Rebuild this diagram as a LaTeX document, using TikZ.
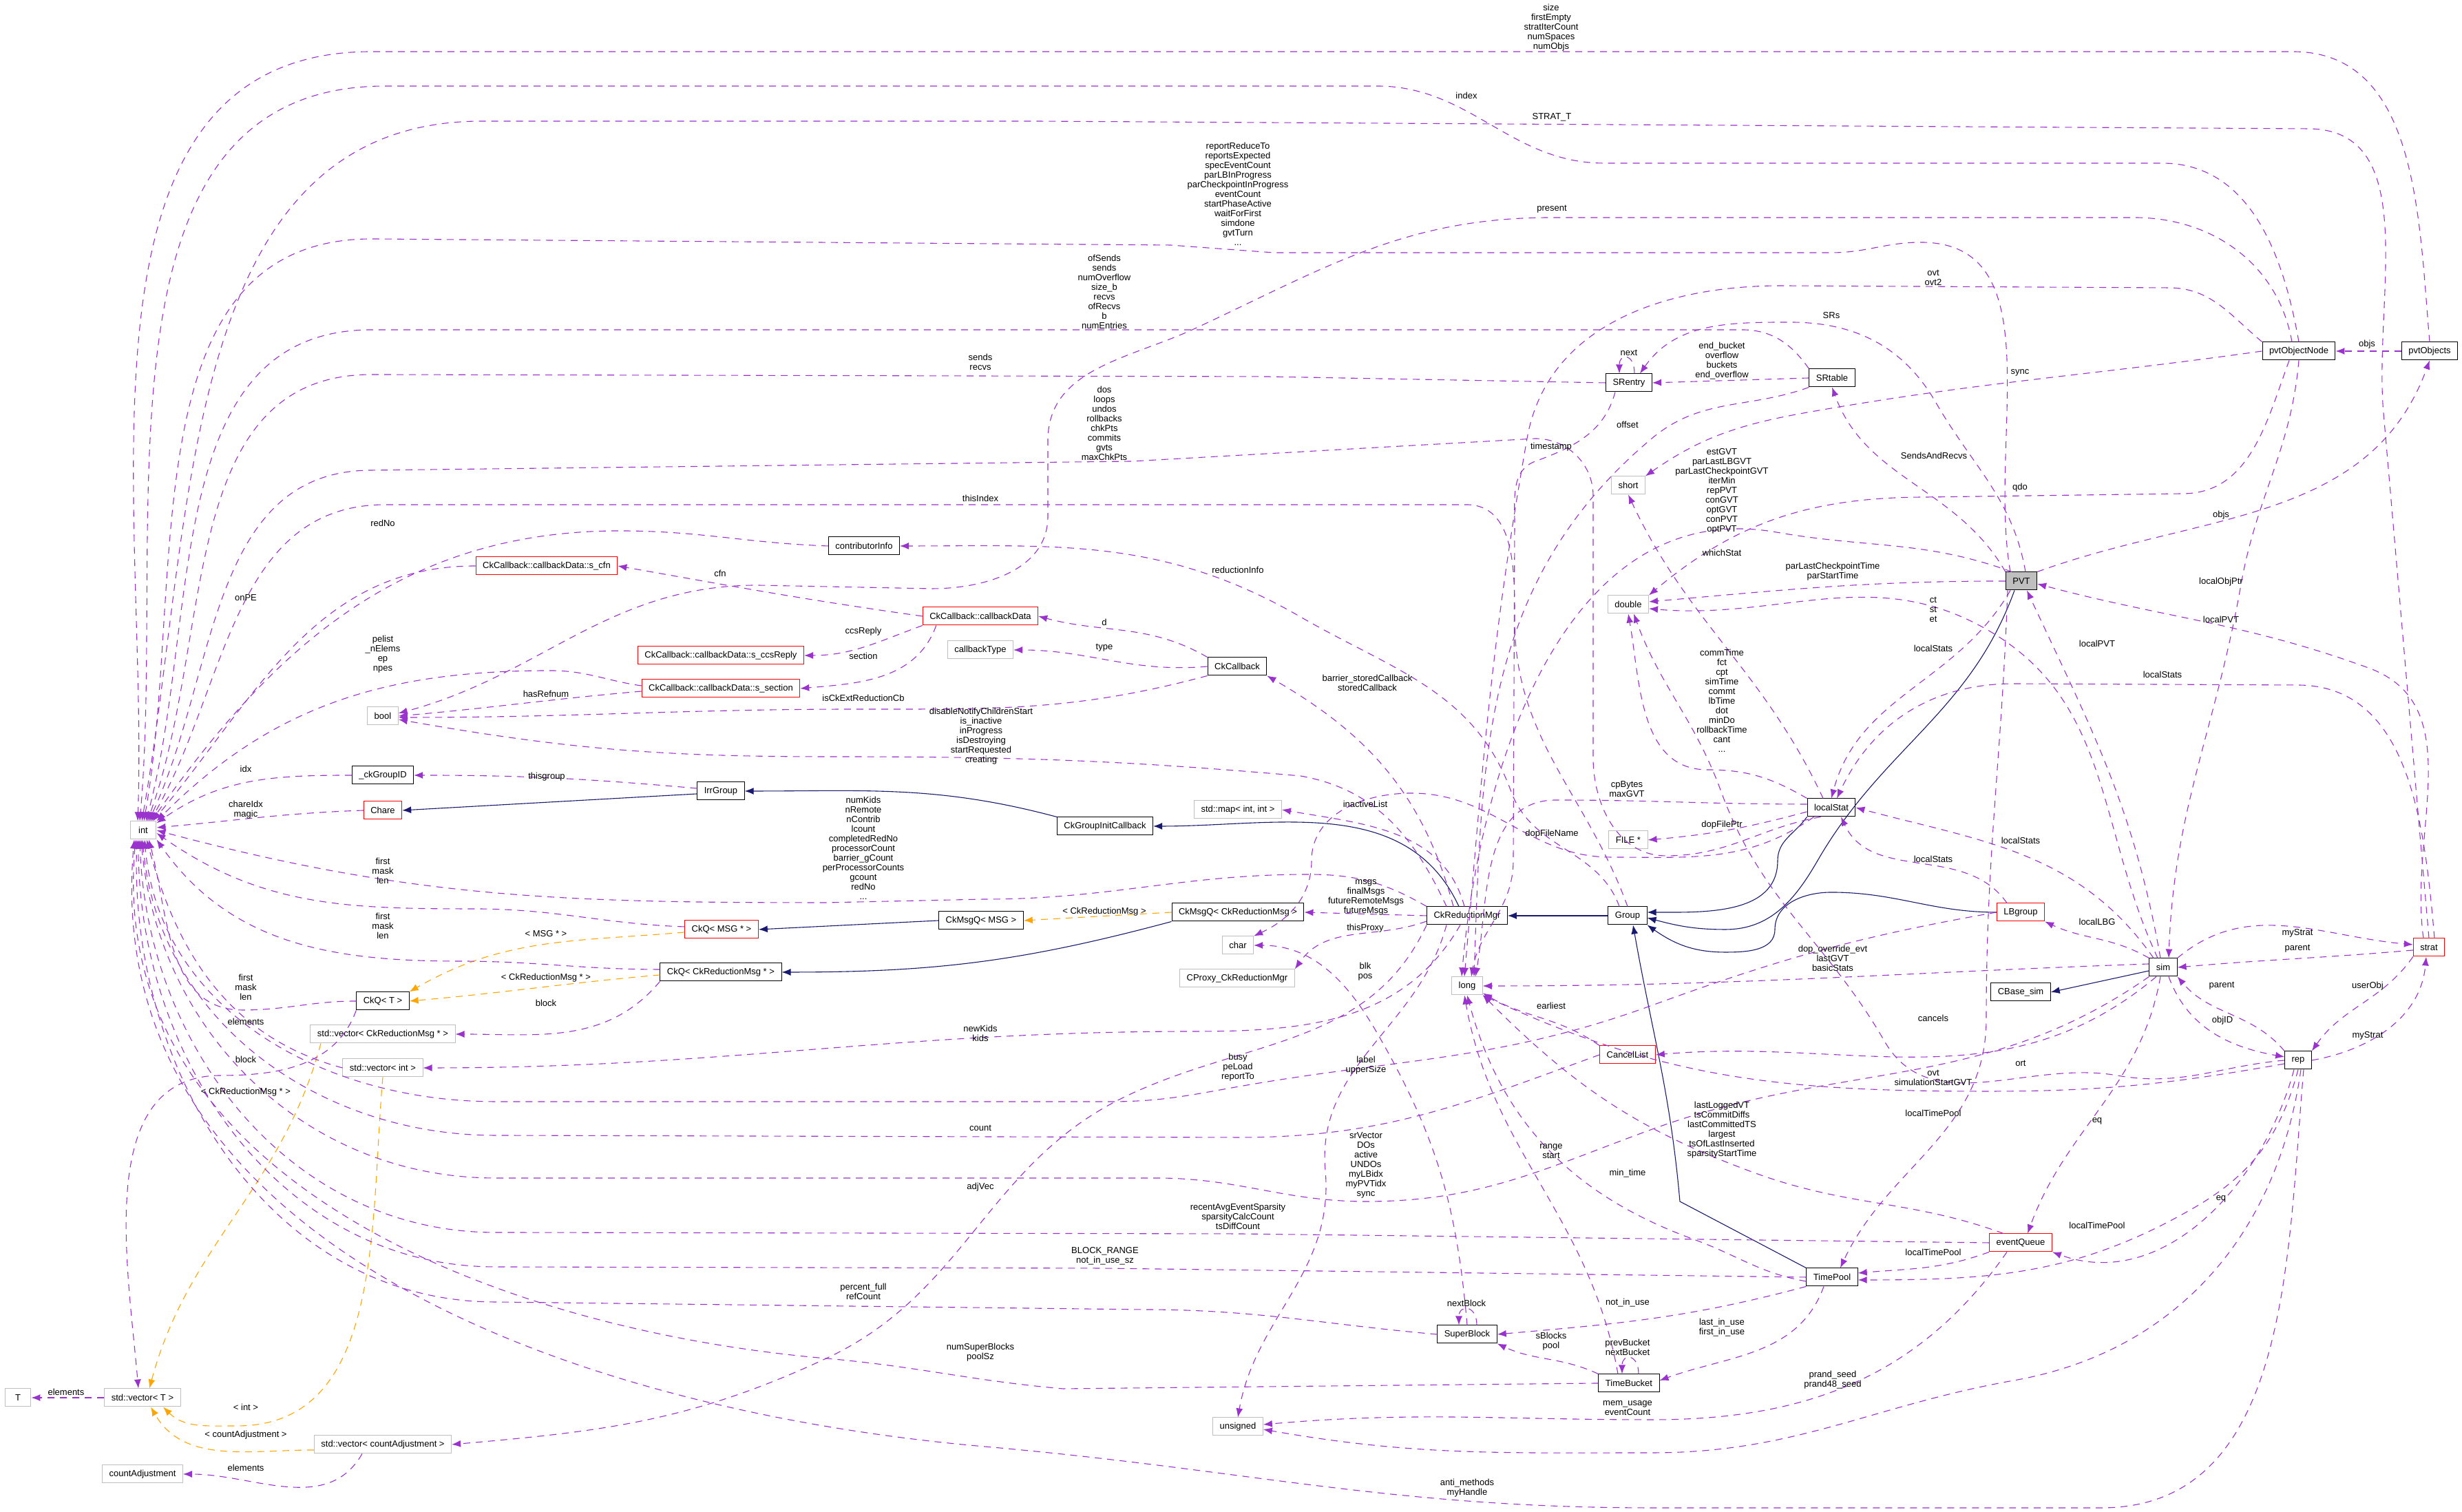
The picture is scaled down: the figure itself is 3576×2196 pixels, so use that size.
\documentclass[tikz,border=0pt]{standalone}
\usepackage{fontspec}
\setmainfont{Liberation Sans}
\usetikzlibrary{arrows.meta}
\definecolor{memcol}{RGB}{154,50,205}
\definecolor{inhcol}{RGB}{25,25,112}
\definecolor{tplcol}{RGB}{255,165,0}
\definecolor{boxgray}{RGB}{191,191,191}
\begin{document}
\begin{tikzpicture}[x=0.1pt,y=0.1pt,font=\fontsize{1.3}{1.4}\selectfont]
		\tikzstyle{box} = [rectangle,draw,line width=0.1pt,minimum height=2.6pt,minimum width=3.8pt,inner xsep=1pt,inner ysep=0.2pt]
		\tikzstyle{cls} = [box,draw=black]
		\tikzstyle{typ} = [box,draw=boxgray]
		\tikzstyle{undoc} = [box,draw=red]
		\tikzstyle{focus} = [box,draw=black,fill=boxgray]
		\tikzstyle{lbl} = [align=center,inner sep=0pt]
		\tikzstyle{mem} = [->,>={Latex[length=1.3pt,width=1pt]},draw=memcol,line width=0.11pt,dash pattern=on 1pt off 0.8pt]
		\tikzstyle{inh} = [->,>={Latex[length=1.3pt,width=1pt]},draw=inhcol,line width=0.11pt]
		\tikzstyle{tpl} = [->,>={Latex[length=1.3pt,width=1pt]},draw=tplcol,line width=0.11pt,dash pattern=on 1pt off 0.8pt]

		\useasboundingbox (0,-2196) rectangle (3576,0);
		\fill[white] (0,-2196) rectangle (3576,0);

		\node[typ](int) at (208,-1206) {int};
		\node[undoc](cfn) at (794,-822) {CkCallback::callbackData::s\_cfn};
		\node[undoc](ccsReply) at (1047,-952) {CkCallback::callbackData::s\_ccsReply};
		\node[undoc](section) at (1047,-1000) {CkCallback::callbackData::s\_section};
		\node[typ](bool) at (556,-1040) {bool};
		\node[cls](groupID) at (556,-1126) {\_ckGroupID};
		\node[cls](IrrGroup) at (1047,-1149) {IrrGroup};
		\node[undoc](Chare) at (556,-1177) {Chare};
		\node[undoc](CkQmsg) at (1048,-1350) {CkQ< MSG * >};
		\node[cls](CkQred) at (1047,-1412) {CkQ< CkReductionMsg * >};
		\node[cls](CkQT) at (556,-1454) {CkQ< T >};
		\node[typ](vecRed) at (556,-1502) {std::vector< CkReductionMsg * >};
		\node[typ](vecInt) at (556,-1551) {std::vector< int >};
		\node[typ](T) at (26,-2030) {T};
		\node[typ](vecT) at (207,-2030) {std::vector< T >};
		\node[typ](vecAdj) at (556,-2098) {std::vector< countAdjustment >};
		\node[typ](countAdj) at (207,-2141) {countAdjustment};
		\node[cls](contributorInfo) at (1255,-793) {contributorInfo};
		\node[undoc](callbackData) at (1424,-895) {CkCallback::callbackData};
		\node[typ](callbackType) at (1424,-944) {callbackType};
		\node[cls](CkCallback) at (1797,-968) {CkCallback};
		\node[typ](stdmap) at (1798,-1176) {std::map< int, int >};
		\node[cls](CkGroupInitCallback) at (1605,-1200) {CkGroupInitCallback};
		\node[cls](CkMsgQmsg) at (1425,-1337) {CkMsgQ< MSG >};
		\node[cls](CkMsgQred) at (1798,-1325) {CkMsgQ< CkReductionMsg >};
		\node[cls](CkReductionMgr) at (2131,-1330) {CkReductionMgr};
		\node[cls](Group) at (2364,-1330) {Group};
		\node[typ](char) at (1798,-1373) {char};
		\node[typ](CProxy) at (1797,-1421) {CProxy\_CkReductionMgr};
		\node[typ](long) at (2131,-1432) {long};
		\node[typ](double) at (2365,-878) {double};
		\node[typ](FILE) at (2365,-1220) {FILE *};
		\node[cls](SRentry) at (2366,-556) {SRentry};
		\node[typ](short) at (2365,-705) {short};
		\node[cls](SRtable) at (2661,-549) {SRtable};
		\node[cls](pvtObjectNode) at (3339,-510) {pvtObjectNode};
		\node[cls](pvtObjects) at (3529,-510) {pvtObjects};
		\node[focus](PVT) at (2936,-844) {PVT};
		\node[cls](localStat) at (2660,-1173) {localStat};
		\node[undoc](LBgroup) at (2935,-1325) {LBgroup};
		\node[cls](sim) at (3142,-1405) {sim};
		\node[undoc](strat) at (3528,-1376) {strat};
		\node[cls](CBaseSim) at (2935,-1441) {CBase\_sim};
		\node[undoc](CancelList) at (2364,-1532) {CancelList};
		\node[cls](rep) at (3338,-1540) {rep};
		\node[undoc](eventQueue) at (2935,-1805) {eventQueue};
		\node[cls](TimePool) at (2661,-1855) {TimePool};
		\node[cls](TimeBucket) at (2366,-2009) {TimeBucket};
		\node[cls](SuperBlock) at (2131,-1938) {SuperBlock};
		\node[typ](unsigned) at (1798,-2072) {unsigned};

		\draw[inh] ([yshift=-0.4]IrrGroup.west) -- (Chare.east);
		\draw[inh] (CkGroupInitCallback.north west) to[out=165,in=0] (IrrGroup.east);
		\draw[inh] ([xshift=-1.2]CkReductionMgr.north) to[out=115,in=0] (CkGroupInitCallback.east);
		\draw[inh] (Group.west) -- (CkReductionMgr.east);
		\draw[inh] (CkMsgQmsg.west) -- (CkQmsg.east);
		\draw[inh] (CkMsgQred.south west) to[out=195,in=0] (CkQred.east);
		\draw[inh] (localStat.south west) to[out=235,in=90] (2582,-1250) to[out=270,in=0] ([yshift=0.5]Group.east);
		\draw[inh] ([xshift=-1]PVT.south) to[out=250,in=60] (2640,-1250) to[out=240,in=0] (2506,-1350) to[out=180,in=-15] ([yshift=-0.3]Group.east);
		\draw[inh] (LBgroup.west) to[out=180,in=0] (2660,-1296) to[out=180,in=90] (2578,-1350) to[out=270,in=0] (2506,-1383) to[out=180,in=-35] (Group.south east);
		\draw[inh] (TimePool.north west) -- (2440,-1745) to[out=95,in=-80] ([xshift=0.8]Group.south);
		\draw[inh] ([yshift=-0.5]sim.west) -- (CBaseSim.east);

		\draw[tpl] ([yshift=-0.4]CkQmsg.west) to[out=185,in=30] (CkQT.north east);
		\draw[tpl] ([yshift=-0.4]CkQred.west) to[out=185,in=5] (CkQT.east);
		\draw[tpl] (CkMsgQred.west) -- (CkMsgQmsg.east);
		\draw[tpl] ([xshift=-9]vecRed.south) to[out=255,in=75] ([xshift=1]vecT.north);
		\draw[tpl] (vecInt.south) to[out=265,in=0] (344,-2071) to[out=180,in=-45] ([xshift=3]vecT.south);
		\draw[tpl] ([yshift=-0.8]vecAdj.west) to[out=180,in=-60] ([xshift=1.2]vecT.south);

		\draw[mem] (pvtObjects.north) to[out=95,in=0] (3330,-75) -- (540,-75) to[out=180,in=88] ([xshift=-0.8]int.north);
		\draw[mem] (pvtObjectNode.north) to[out=100,in=0] (3140,-237) -- (2330,-237) to[out=180,in=0] (2000,-125) -- (560,-125) to[out=180,in=85] ([xshift=-0.5]int.north);
		\draw[mem] (strat.north) to[out=95,in=-85] (3462,-600) to[out=95,in=0] (3352,-187) -- (1500,-176) -- (700,-176) to[out=180,in=80] ([xshift=-0.2]int.north);
		\draw[mem] ([xshift=-1.6]PVT.north) to[out=100,in=0] (2790,-352) to[out=180,in=0] (2660,-367) -- (1850,-367) -- (1700,-356) -- (540,-347) to[out=180,in=80] ([xshift=0.1]int.north);
		\draw[mem] (SRtable.north west) to[out=125,in=0] (2530,-479) -- (540,-479) to[out=180,in=75] ([xshift=0.4]int.north);
		\draw[mem] (SRentry.west) -- (1840,-547) -- (540,-544) to[out=180,in=70] ([xshift=0.6]int.north);
		\draw[mem] ([xshift=2]localStat.south west) to[out=190,in=0] (2420,-1243) to[out=180,in=270] (2314,-1100) -- (2314,-720) to[out=90,in=0] (2230,-637) -- (1644,-670) -- (540,-683) to[out=180,in=65] ([xshift=0.8]int.north);
		\draw[mem] (Group.north) to[out=110,in=270] (2200,-900) to[out=90,in=0] (2130,-733) -- (560,-733) to[out=180,in=60] ([xshift=1]int.north);
		\draw[mem] (contributorInfo.west) to[out=178,in=0] (900,-771) to[out=180,in=55] ([xshift=1.2]int.north);
		\draw[mem] (cfn.west) to[out=180,in=50] ([xshift=1.4]int.north);
		\draw[mem] ([yshift=0.4]section.west) to[out=172,in=0] (800,-974) to[out=180,in=45] (int.north east);
		\draw[mem] (groupID.west) to[out=180,in=35] ([yshift=-0.3]int.north east);
		\draw[mem] (Chare.west) to[out=182,in=5] ([yshift=0.4]int.east);
		\draw[mem] (CkReductionMgr.north west) to[out=150,in=0] (1900,-1270) to[out=180,in=0] (1430,-1306) -- (1200,-1311) to[out=180,in=-15] (int.east);
		\draw[mem] ([yshift=0.4]CkQmsg.west) to[out=178,in=0] (689,-1320) to[out=180,in=-35] ([yshift=-0.4]int.east);
		\draw[mem] ([yshift=0.4]CkQred.west) to[out=180,in=0] (666,-1396) to[out=180,in=-55] (int.south east);
		\draw[mem] (CkQT.west) to[out=180,in=0] (352,-1467) to[out=180,in=-75] ([xshift=0.8]int.south);
		\draw[mem] (vecInt.west) to[out=165,in=-75] ([xshift=0.5]int.south);
		\draw[mem] (LBgroup.west) to[out=190,in=20] (2400,-1460) to[out=200,in=10] (1800,-1578) to[out=190,in=0] (1613,-1600) -- (720,-1600) to[out=180,in=-85] ([xshift=0.2]int.south);
		\draw[mem] (CancelList.west) to[out=200,in=0] (1800,-1652) -- (720,-1649) to[out=180,in=-85] ([xshift=-0.1]int.south);
		\draw[mem] (sim.south west) to[out=215,in=20] (2400,-1640) to[out=200,in=0] (1984,-1745) to[out=180,in=0] (1680,-1711) -- (720,-1711) to[out=180,in=-85] ([xshift=-0.3]int.south);
		\draw[mem] (eventQueue.west) -- (1800,-1792) -- (720,-1790) to[out=180,in=-88] ([xshift=-0.5]int.south);
		\draw[mem] (TimePool.west) -- (1600,-1842) -- (720,-1840) to[out=180,in=-90] ([xshift=-0.7]int.south);
		\draw[mem] (SuperBlock.west) to[out=175,in=0] (1660,-1902) -- (720,-1891) to[out=180,in=-92] ([xshift=-0.9]int.south);
		\draw[mem] (TimeBucket.west) -- (1544,-2017) to[out=175,in=-5] (1200,-1973) to[out=175,in=-95] ([xshift=-1.1]int.south);
		\draw[mem] ([xshift=0.8]rep.south) to[out=265,in=0] (3052,-2190) -- (2400,-2190) to[out=180,in=-5] (1430,-2101) to[out=175,in=-95] ([xshift=-1.3]int.south);

		\draw[mem] (CkReductionMgr.south west) to[out=245,in=25] (1640,-1590) to[out=205,in=25] (1200,-1973) to[out=205,in=5] (vecAdj.east);
		\draw[mem] ([xshift=-1]CkReductionMgr.south) to[out=240,in=0] (1736,-1498) to[out=180,in=0] (vecInt.east);
		\draw[mem] ([xshift=-3]CkReductionMgr.south) to[out=255,in=95] (1925,-1700) to[out=275,in=80] (unsigned.north);
		\draw[mem] (CkQT.south west) to[out=250,in=0] (321,-1562) to[out=180,in=95] ([xshift=-0.6]vecT.north);
		\draw[mem] (CkQred.south west) to[out=230,in=0] (vecRed.east);
		\draw[mem] ([xshift=-3]vecAdj.south) to[out=240,in=0] (countAdj.east);
		\draw[mem] (vecT.west) -- (T.east);

		\draw[mem] (pvtObjects.west) -- (pvtObjectNode.east);
		\draw[mem] (PVT.north east) to[out=20,in=250] (pvtObjects.south);
		\draw[mem] (pvtObjectNode.south) to[out=265,in=80] (3255,-849) to[out=260,in=88] ([xshift=0.8]sim.north);
		\draw[mem] ([xshift=-0.8]strat.north) to[out=98,in=-20] (3440,-970) to[out=160,in=-15] ([yshift=-0.4]PVT.east);
		\draw[mem] ([xshift=-0.4]sim.north) to[out=100,in=295] ([xshift=0.8]PVT.south);
		\draw[mem] ([xshift=0.8]strat.north) to[out=95,in=0] (3337,-995) -- (2925,-993) to[out=180,in=65] ([xshift=0.8]localStat.north);
		\draw[mem] ([xshift=-1.6]PVT.south) to[out=240,in=75] (localStat.north);
		\draw[mem] ([xshift=-1.4]sim.north) to[out=125,in=-15] (localStat.east);
		\draw[mem] ([xshift=-2]LBgroup.north) to[out=125,in=295] ([xshift=1.4]localStat.south);
		\draw[mem] (sim.north west) to[out=150,in=-25] (LBgroup.south east);
		\draw[mem] (sim.north east) to[out=40,in=175] ([yshift=0.4]strat.west);
		\draw[mem] ([yshift=-0.4]strat.west) to[out=185,in=5] (sim.east);
		\draw[mem] (rep.north west) to[out=130,in=-50] (sim.south east);
		\draw[mem] ([xshift=0.8]sim.south) to[out=290,in=170] ([yshift=0.5]rep.west);
		\draw[mem] (strat.south west) to[out=235,in=55] (rep.north east);
		\draw[mem] (rep.east) to[out=10,in=265] ([xshift=-0.4]strat.south);
		\draw[mem] ([xshift=-1]sim.south) to[out=220,in=5] (CancelList.east);
		\draw[mem] ([yshift=0.5]sim.west) to[out=182,in=0] (long.east);
		\draw[mem] ([yshift=-0.5]rep.west) to[out=190,in=0] (2887,-1585) to[out=180,in=-25] (long.south east);
		\draw[mem] (rep.west) to[out=185,in=-10] (3075,-1562) to[out=170,in=-60] (2737,-1512) to[out=120,in=-70] (2500,-1150) to[out=110,in=-70] ([xshift=0.8]double.south);
		\draw[mem] ([xshift=-0.4]sim.south) to[out=260,in=70] ([xshift=1]eventQueue.north);
		\draw[mem] ([xshift=-0.6]rep.south) to[out=255,in=-20] (eventQueue.south east);
		\draw[mem] ([xshift=-2]PVT.south) to[out=268,in=90] (2885,-1480) to[out=270,in=65] ([xshift=1.2]TimePool.north);
		\draw[mem] (rep.south) to[out=255,in=30] (3187,-1754) to[out=210,in=0] ([yshift=-0.4]TimePool.east);
		\draw[mem] (eventQueue.south west) to[out=200,in=5] ([yshift=0.6]TimePool.east);
		\draw[mem] ([xshift=-2.5]eventQueue.north) to[out=160,in=-20] (2550,-1704) to[out=160,in=-45] (long.south east);
		\draw[mem] ([yshift=-0.6]TimePool.west) to[out=170,in=-20] (2460,-1800) to[out=160,in=-75] (long.south);
		\draw[mem] ([xshift=-1.6]TimeBucket.north) to[out=100,in=-80] ([xshift=-0.4]long.south);
		\draw[mem] (CancelList.north west) to[out=145,in=-30] ([yshift=0.3]long.south east);
		\draw[mem] (TimePool.south west) to[out=195,in=5] (SuperBlock.east);
		\draw[mem] ([xshift=-1.2]TimePool.south) to[out=250,in=20] ([yshift=0.4]TimeBucket.east);
		\draw[mem] (TimeBucket.north west) to[out=155,in=-25] (SuperBlock.south east);
		\draw[mem] ([xshift=1.4]TimeBucket.north) .. controls +(0,30) and +(0,30) .. ([xshift=-1]TimeBucket.north);
		\draw[mem] ([xshift=1.4]SuperBlock.north) .. controls +(0,30) and +(0,30) .. ([xshift=-1.2]SuperBlock.north);
		\draw[mem] (SuperBlock.north) to[out=95,in=-60] (2000,-1500) to[out=120,in=0] (char.east);
		\draw[mem] ([xshift=-2]eventQueue.south) to[out=235,in=0] (2400,-2062) to[out=180,in=5] ([yshift=0.3]unsigned.east);
		\draw[mem] ([xshift=0.4]rep.south) to[out=262,in=10] (2925,-2005) to[out=190,in=0] (2400,-2110) to[out=180,in=-10] ([yshift=-0.4]unsigned.east);

		\draw[mem] (SRtable.west) -- (SRentry.east);
		\draw[mem] ([xshift=0.8]SRentry.north) .. controls +(0,30) and +(0,30) .. ([xshift=-1.4]SRentry.north);
		\draw[mem] ([xshift=0.6]PVT.north) to[out=100,in=-60] (2812,-585) to[out=120,in=0] (2600,-468) to[out=180,in=55] ([xshift=1.6]SRentry.north);
		\draw[mem] (PVT.north west) to[out=120,in=-70] (SRtable.south);
		\draw[mem] ([xshift=-2]SRentry.south) to[out=255,in=20] (2230,-670) to[out=200,in=90] (2200,-760) -- (2198,-1250) to[out=270,in=80] ([xshift=0.6]long.north);
		\draw[mem] (SRtable.south west) to[out=200,in=40] (2399,-637) to[out=220,in=88] ([xshift=1]long.north);
		\draw[mem] (pvtObjectNode.north west) to[out=140,in=0] (3150,-418) -- (2587,-415) to[out=180,in=80] (2218,-637) to[out=260,in=85] ([xshift=-0.4]long.north);
		\draw[mem] ([xshift=-1.4]PVT.north) to[out=160,in=-10] (2580,-773) to[out=170,in=85] ([xshift=-0.8]long.north);
		\draw[mem] (PVT.west) to[out=180,in=5] ([yshift=0.4]double.east);
		\draw[mem] ([xshift=-0.8]sim.north) to[out=115,in=-30] (2887,-915) to[out=150,in=-5] ([yshift=-0.6]double.east);
		\draw[mem] ([xshift=-1.4]pvtObjectNode.south) to[out=250,in=0] (3170,-717) -- (2800,-722) to[out=180,in=40] (double.north east);
		\draw[mem] (pvtObjectNode.west) to[out=188,in=10] (2625,-599) to[out=190,in=35] (short.north east);
		\draw[mem] ([xshift=-1]pvtObjectNode.north) to[out=100,in=0] (3100,-316) -- (2254,-316) to[out=180,in=25] (1736,-477) to[out=205,in=90] (1522,-640) -- (1522,-750) to[out=270,in=0] (1353,-855) -- (1100,-850) to[out=180,in=15] ([yshift=0.4]bool.east);
		\draw[mem] ([xshift=-1.2]localStat.north) to[out=115,in=-65] (short.south);
		\draw[mem] (localStat.north west) to[out=150,in=0] (2480,-1118) to[out=180,in=-80] (double.south);
		\draw[mem] ([yshift=-0.6]localStat.west) to[out=195,in=5] (FILE.east);
		\draw[mem] ([xshift=1]localStat.south west) to[out=215,in=0] (2340,-1245) to[out=180,in=0] (2050,-1152) to[out=180,in=90] (1905,-1250) to[out=270,in=25] (char.north east);
		\draw[mem] ([yshift=0.5]localStat.west) to[out=180,in=0] (2260,-1162) to[out=180,in=80] ([xshift=1.2]long.north);

		\draw[mem] (callbackData.west) to[out=172,in=-10] (cfn.east);
		\draw[mem] (callbackData.south west) to[out=200,in=0] (ccsReply.east);
		\draw[mem] ([xshift=2]callbackData.south west) to[out=250,in=5] (section.east);
		\draw[mem] ([yshift=-0.4]section.west) to[out=185,in=5] (bool.east);
		\draw[mem] (CkCallback.north west) to[out=150,in=-15] (callbackData.east);
		\draw[mem] (CkCallback.west) to[out=185,in=0] (callbackType.east);
		\draw[mem] (CkCallback.south west) to[out=195,in=0] (1250,-1030) to[out=180,in=0] ([yshift=-0.2]bool.east);
		\draw[mem] ([xshift=-3]CkReductionMgr.north) to[out=115,in=-10] (1889,-1127) to[out=175,in=0] (1200,-1099) to[out=180,in=-10] ([yshift=-0.5]bool.east);
		\draw[mem] ([xshift=-2]CkReductionMgr.north) to[out=105,in=-30] (CkCallback.south east);
		\draw[mem] ([xshift=-1.2]Group.north) to[out=110,in=-70] (2195,-1150) to[out=110,in=-30] (1889,-896) to[out=150,in=0] (contributorInfo.east);
		\draw[mem] ([xshift=-0.4]CkReductionMgr.north) to[out=105,in=-10] (stdmap.east);
		\draw[mem] (CkReductionMgr.west) -- (CkMsgQred.east);
		\draw[mem] ([yshift=-0.8]CkReductionMgr.west) to[out=200,in=55] (CProxy.north east);
		\draw[mem] ([yshift=0.4]IrrGroup.west) to[out=175,in=0] (groupID.east);

		\node[lbl](lSize) at (2253,-40) {size\\firstEmpty\\stratIterCount\\numSpaces\\numObjs};
		\node[lbl](lIndex) at (2130,-139) {index};
		\node[lbl](lStrat) at (2254,-170) {STRAT\_T};
		\node[lbl](lReport) at (1798,-282) {reportReduceTo\\reportsExpected\\specEventCount\\parLBInProgress\\parCheckpointInProgress\\eventCount\\startPhaseActive\\waitForFirst\\simdone\\gvtTurn\\...};
		\node[lbl](lPresent) at (2254,-304) {present};
		\node[lbl](lOfSends) at (1604,-424) {ofSends\\sends\\numOverflow\\size\_b\\recvs\\ofRecvs\\b\\numEntries};
		\node[lbl](lSends) at (1424,-526) {sends\\recvs};
		\node[lbl](lDos) at (1604,-615) {dos\\loops\\undos\\rollbacks\\chkPts\\commits\\gvts\\maxChkPts};
		\node[lbl](lThisIndex) at (1424,-724) {thisIndex};
		\node[lbl](lRedNo) at (556,-760) {redNo};
		\node[lbl](lOnPE) at (357,-868) {onPE};
		\node[lbl](lPelist) at (556,-950) {pelist\\\_nElems\\ep\\npes};
		\node[lbl](lIdx) at (357,-1117) {idx};
		\node[lbl](lChareIdx) at (357,-1176) {chareIdx\\magic};
		\node[lbl](lNumKids) at (1254,-1232) {numKids\\nRemote\\nContrib\\lcount\\completedRedNo\\processorCount\\barrier\_gCount\\perProcessorCounts\\gcount\\redNo\\...};
		\node[lbl](lFirst1) at (556,-1265) {first\\mask\\len};
		\node[lbl](lFirst2) at (556,-1345) {first\\mask\\len};
		\node[lbl](lFirst3) at (357,-1434) {first\\mask\\len};
		\node[lbl](lElemInt) at (357,-1484) {elements};
		\node[lbl](lBusy) at (1798,-1550) {busy\\peLoad\\reportTo};
		\node[lbl](lCount) at (1424,-1638) {count};
		\node[lbl](lSrVector) at (1984,-1692) {srVector\\DOs\\active\\UNDOs\\myLBidx\\myPVTidx\\sync};
		\node[lbl](lRecent) at (1798,-1767) {recentAvgEventSparsity\\sparsityCalcCount\\tsDiffCount};
		\node[lbl](lBlockRange) at (1605,-1824) {BLOCK\_RANGE\\not\_in\_use\_sz};
		\node[lbl](lPercent) at (1254,-1876) {percent\_full\\refCount};
		\node[lbl](lNumSuper) at (1424,-1964) {numSuperBlocks\\poolSz};
		\node[lbl](lAnti) at (2131,-2161) {anti\_methods\\myHandle};
		\node[lbl](lAdjVec) at (1424,-1724) {adjVec};
		\node[lbl](lNewKids) at (1424,-1501) {newKids\\kids};
		\node[lbl](lLabel) at (1984,-1547) {label\\upperSize};
		\node[lbl](lBlockT) at (357,-1539) {block};
		\node[lbl](lBlockRed) at (793,-1457) {block};
		\node[lbl](lElemAdj) at (357,-2132) {elements};
		\node[lbl](lElemT) at (96,-2022) {elements};
		\node[lbl](lTplRed) at (357,-1586) {< CkReductionMsg * >};
		\node[lbl](lTplInt) at (357,-2044) {< int >};
		\node[lbl](lTplAdj) at (357,-2084) {< countAdjustment >};
		\node[lbl](lTplMsg) at (793,-1356) {< MSG * >};
		\node[lbl](lTplQRed) at (793,-1420) {< CkReductionMsg * >};
		\node[lbl](lTplMsgQ) at (1604,-1324) {< CkReductionMsg >};
		\node[lbl](lObjs1) at (3438,-500) {objs};
		\node[lbl](lObjs2) at (3226,-748) {objs};
		\node[lbl](lLocalObj) at (3226,-845) {localObjPtr};
		\node[lbl](lLocalPVT1) at (3226,-900) {localPVT};
		\node[lbl](lLocalPVT2) at (3046,-935) {localPVT};
		\node[lbl](lLocalStats1) at (3141,-980) {localStats};
		\node[lbl](lLocalStats2) at (2808,-942) {localStats};
		\node[lbl](lLocalStats3) at (2935,-1221) {localStats};
		\node[lbl](lLocalStats4) at (2808,-1248) {localStats};
		\node[lbl](lLocalLBG) at (3046,-1339) {localLBG};
		\node[lbl](lMyStrat1) at (3337,-1355) {myStrat};
		\node[lbl](lParent1) at (3337,-1378) {parent};
		\node[lbl](lParent2) at (3227,-1432) {parent};
		\node[lbl](lObjID) at (3228,-1482) {objID};
		\node[lbl](lUserObj) at (3439,-1432) {userObj};
		\node[lbl](lMyStrat2) at (3439,-1504) {myStrat};
		\node[lbl](lCancels) at (2808,-1479) {cancels};
		\node[lbl](lDop) at (2662,-1392) {dop\_override\_evt\\lastGVT\\basicStats};
		\node[lbl](lOvtSim) at (2808,-1565) {ovt\\simulationStartGVT};
		\node[lbl](lOrt) at (2935,-1544) {ort};
		\node[lbl](lEq1) at (3046,-1628) {eq};
		\node[lbl](lEq2) at (3226,-1741) {eq};
		\node[lbl](lLocalTP1) at (2808,-1617) {localTimePool};
		\node[lbl](lLocalTP2) at (3046,-1780) {localTimePool};
		\node[lbl](lLocalTP3) at (2808,-1819) {localTimePool};
		\node[lbl](lLastLogged) at (2501,-1641) {lastLoggedVT\\tsCommitDiffs\\lastCommittedTS\\largest\\tsOfLastInserted\\sparsityStartTime};
		\node[lbl](lMinTime) at (2364,-1704) {min\_time};
		\node[lbl](lRange) at (2253,-1672) {range\\start};
		\node[lbl](lEarliest) at (2253,-1461) {earliest};
		\node[lbl](lNotInUse) at (2364,-1892) {not\_in\_use};
		\node[lbl](lLastInUse) at (2501,-1928) {last\_in\_use\\first\_in\_use};
		\node[lbl](lSBlocks) at (2253,-1948) {sBlocks\\pool};
		\node[lbl](lPrevBucket) at (2364,-1957) {prevBucket\\nextBucket};
		\node[lbl](lNextBlock) at (2130,-1893) {nextBlock};
		\node[lbl](lBlk) at (1983,-1411) {blk\\pos};
		\node[lbl](lMemUsage) at (2364,-2045) {mem\_usage\\eventCount};
		\node[lbl](lPrand) at (2662,-2004) {prand\_seed\\prand48\_seed};
		\node[lbl](lEndBucket) at (2501,-524) {end\_bucket\\overflow\\buckets\\end\_overflow};
		\node[lbl](lNext) at (2366,-512) {next};
		\node[lbl](lSRs) at (2660,-458) {SRs};
		\node[lbl](lSendsAndRecvs) at (2809,-662) {SendsAndRecvs};
		\node[lbl](lTimestamp) at (2253,-649) {timestamp};
		\node[lbl](lOffset) at (2364,-617) {offset};
		\node[lbl](lOvt) at (2808,-403) {ovt\\ovt2};
		\node[lbl](lEstGVT) at (2501,-713) {estGVT\\parLastLBGVT\\parLastCheckpointGVT\\iterMin\\repPVT\\conGVT\\optGVT\\conPVT\\optPVT};
		\node[lbl](lParLast) at (2662,-830) {parLastCheckpointTime\\parStartTime};
		\node[lbl](lCt) at (2808,-885) {ct\\st\\et};
		\node[lbl](lQdo) at (2934,-708) {qdo};
		\node[lbl](lSync) at (2934,-541) {sync};
		\node[lbl](lWhichStat) at (2501,-803) {whichStat};
		\node[lbl](lCommTime) at (2501,-1018) {commTime\\fct\\cpt\\simTime\\commt\\lbTime\\dot\\minDo\\rollbackTime\\cant\\...};
		\node[lbl](lDopFilePtr) at (2501,-1198) {dopFilePtr};
		\node[lbl](lDopFileName) at (2254,-1211) {dopFileName};
		\node[lbl](lCpBytes) at (2363,-1146) {cpBytes\\maxGVT};
		\node[lbl](lCfn) at (1046,-833) {cfn};
		\node[lbl](lCcsReply) at (1254,-917) {ccsReply};
		\node[lbl](lSection) at (1254,-953) {section};
		\node[lbl](lHasRefnum) at (793,-1008) {hasRefnum};
		\node[lbl](lD) at (1604,-904) {d};
		\node[lbl](lType) at (1604,-941) {type};
		\node[lbl](lIsCkExt) at (1254,-1014) {isCkExtReductionCb};
		\node[lbl](lDisable) at (1425,-1069) {disableNotifyChildrenStart\\is\_inactive\\inProgress\\isDestroying\\startRequested\\creating};
		\node[lbl](lBarrier) at (1986,-992) {barrier\_storedCallback\\storedCallback};
		\node[lbl](lReductionInfo) at (1798,-828) {reductionInfo};
		\node[lbl](lInactive) at (1983,-1168) {inactiveList};
		\node[lbl](lMsgs) at (1984,-1303) {msgs\\finalMsgs\\futureRemoteMsgs\\futureMsgs};
		\node[lbl](lThisProxy) at (1983,-1348) {thisProxy};
		\node[lbl](lThisGroup) at (794,-1128) {thisgroup};
\end{tikzpicture}
\end{document}
